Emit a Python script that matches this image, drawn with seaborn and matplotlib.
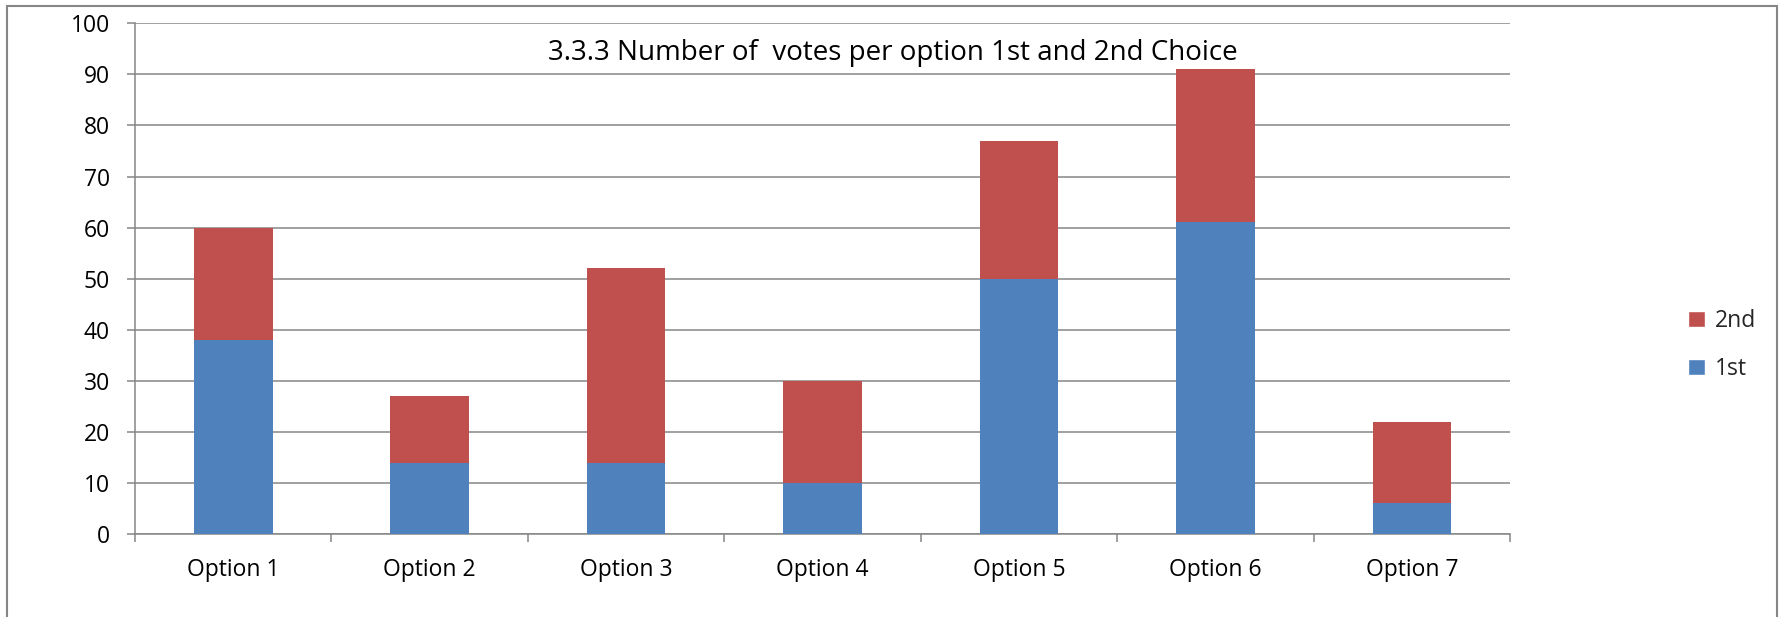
import matplotlib
matplotlib.use("Agg")
import matplotlib.pyplot as plt
from matplotlib.patches import Rectangle, Patch
import seaborn as sns
import pandas as pd
import numpy as np

categories = ["Option 1", "Option 2", "Option 3", "Option 4", "Option 5", "Option 6", "Option 7"]
first_choice = [38, 14, 14, 10, 50, 61, 6]
second_choice = [22, 13, 38, 20, 27, 30, 16]
y_ticks = [0, 10, 20, 30, 40, 50, 60, 70, 80, 90, 100]
title_text = "3.3.3 Number of  votes per option 1st and 2nd Choice"

BLUE = "#4F81BD"
RED = "#C0504D"
GRID = "#868686"

sns.set_theme(style="white")
plt.rcParams["font.family"] = ["Open Sans", "DejaVu Sans"]

df = pd.DataFrame({
    "option": categories,
    "first": first_choice,
    "total": np.array(first_choice) + np.array(second_choice),
})

W, H = 1780, 617
fig = plt.figure(figsize=(W / 100, H / 100), dpi=100)
ax = fig.add_axes([135 / W, 1 - 534 / H, (1510 - 135) / W, (534 - 23.3) / H])

# stacked bars: full height in red, first-choice portion in blue on top
sns.barplot(data=df, x="option", y="total", color=RED, saturation=1, width=0.4,
            ax=ax, zorder=3, edgecolor="none")
sns.barplot(data=df, x="option", y="first", color=BLUE, saturation=1, width=0.4,
            ax=ax, zorder=4, edgecolor="none")

ax.set_xlim(-0.5, len(categories) - 0.5)
ax.set_ylim(0, 100)
ax.set_yticks(y_ticks)
ax.set_xlabel("")
ax.set_ylabel("")

ax.yaxis.grid(True, color=GRID, linewidth=1.1, zorder=0)
ax.set_axisbelow(True)
for s in ["top", "right"]:
    ax.spines[s].set_visible(False)
for s in ["left", "bottom"]:
    ax.spines[s].set_color(GRID)
    ax.spines[s].set_linewidth(1.1)

ax.tick_params(axis="y", length=6, width=1.1, color=GRID, pad=12,
               labelsize=16.5, labelcolor="black", left=True)
ax.set_xticks(range(len(categories)))
ax.set_xticklabels(categories)
ax.set_xticks(np.arange(-0.5, len(categories), 1.0), minor=True)
ax.tick_params(axis="x", which="major", length=0, pad=17, labelsize=16.5, labelcolor="black")
ax.tick_params(axis="x", which="minor", length=6, width=1.1, color=GRID, bottom=True)

ax.text(893 / W, 1 - 53 / H, title_text, transform=fig.transFigure,
        ha="center", va="center", fontsize=20, color="black")

handles = [Patch(facecolor=RED, label="2nd"), Patch(facecolor=BLUE, label="1st")]
leg = fig.legend(handles=handles, loc="center left", bbox_to_anchor=(1667 / W, 1 - 345 / H),
                 frameon=False, fontsize=16.5, handlelength=0.75, handleheight=0.75,
                 handletextpad=0.45, labelspacing=1.05)

# outer chart border
fig.patches.append(Rectangle((7 / W, -0.05), (1777 - 7) / W, 1.05 - 6 / H,
                             transform=fig.transFigure, fill=False,
                             edgecolor=GRID, linewidth=1.5))

fig.savefig("out.png", dpi=100)
